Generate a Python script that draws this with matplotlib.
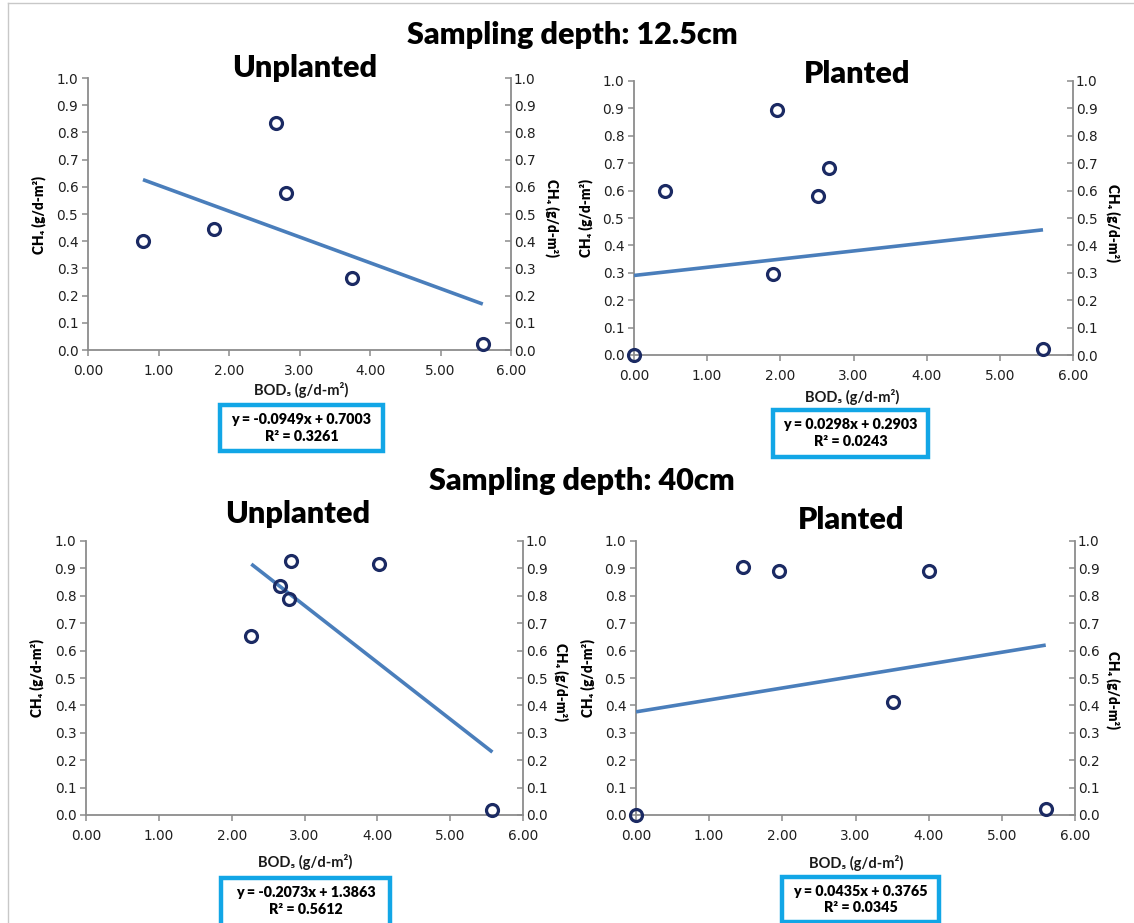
import matplotlib
matplotlib.use("Agg")
import matplotlib.pyplot as plt
import matplotlib.patheffects as pe
from matplotlib.patches import Rectangle
from matplotlib.lines import Line2D

# ---------------- data ----------------
ul125_x = [0.78, 1.79, 2.66, 2.81, 3.75, 5.60]
ul125_y = [0.40, 0.445, 0.834, 0.579, 0.266, 0.022]
ul125_fit = (-0.0949, 0.7003, 0.3261)

pl125_x = [0.00, 0.42, 1.95, 1.90, 2.51, 2.66, 5.59]
pl125_y = [0.00, 0.598, 0.893, 0.296, 0.580, 0.682, 0.022]
pl125_fit = (0.0298, 0.2903, 0.0243)

ul40_x = [2.27, 2.66, 2.81, 2.79, 4.02, 5.58]
ul40_y = [0.654, 0.835, 0.928, 0.790, 0.915, 0.018]
ul40_fit = (-0.2073, 1.3863, 0.5612)

pl40_x = [0.00, 1.46, 1.95, 4.00, 3.51, 5.60]
pl40_y = [0.00, 0.905, 0.892, 0.892, 0.411, 0.021]
pl40_fit = (0.0435, 0.3765, 0.0345)

x_ticks = [0, 1, 2, 3, 4, 5, 6]
y_ticks = [0.0, 0.1, 0.2, 0.3, 0.4, 0.5, 0.6, 0.7, 0.8, 0.9, 1.0]

section_titles = ["Sampling depth: 12.5cm", "Sampling depth: 40cm"]
panel_titles = ["Unplanted", "Planted", "Unplanted", "Planted"]
xlabel = "BOD\u2085 (g/d-m\u00b2)"
ylabel = "CH\u2084 (g/d-m\u00b2)"

# ---------------- style ----------------
W, H = 1134, 923
fig = plt.figure(figsize=(W / 100, H / 100), dpi=100)
fig.patch.set_facecolor("white")

TITLE_FONT = ["Lato", "DejaVu Sans"]
TICK_FONT = ["DejaVu Sans"]
SPINE_C = "#8c8c8c"
MARK_C = "#1b2a63"
LINE_C = "#4a7ebb"
BOX_C = "#12a6e6"
TICK_SIZE = 9.8


def fx(px):
    return px / W


def fy(py):
    return 1 - py / H


def place(l, r, t, b):
    return [fx(l), fy(b), fx(r) - fx(l), fy(t) - fy(b)]


panels = [
    dict(rect=(88, 511, 78, 350), x=ul125_x, y=ul125_y, fit=ul125_fit,
         title=(305, 68), xl=(301, 390), yl=(39, 215), yr=(552, 218),
         box=(220, 383, 405, 451)),
    dict(rect=(634, 1073, 81, 355), x=pl125_x, y=pl125_y, fit=pl125_fit,
         title=(857, 74), xl=(852, 397), yl=(586, 218), yr=(1113, 223),
         box=(773, 928, 410, 457)),
    dict(rect=(86, 523, 541, 815), x=ul40_x, y=ul40_y, fit=ul40_fit,
         title=(298, 514), xl=(305, 862), yl=(37, 678), yr=(561, 682),
         box=(221, 390, 878, 926)),
    dict(rect=(636, 1075, 541, 815), x=pl40_x, y=pl40_y, fit=pl40_fit,
         title=(851, 520), xl=(856, 863), yl=(588, 678), yr=(1113, 690),
         box=(782, 939, 877, 922)),
]

for i, p in enumerate(panels):
    l, r, t, b = p["rect"]
    ax = fig.add_axes(place(l, r, t, b))
    ax.set_facecolor("none")
    ax.set_xlim(0, 6)
    ax.set_ylim(0, 1.0)
    ax.set_xticks(x_ticks)
    ax.set_xticklabels([f"{v:.2f}" for v in x_ticks])
    ax.set_yticks(y_ticks)
    ax.set_yticklabels([f"{v:.1f}" for v in y_ticks])
    for s in ["top", "right"]:
        ax.spines[s].set_visible(False)
    for s in ["left", "bottom"]:
        ax.spines[s].set_color(SPINE_C)
        ax.spines[s].set_linewidth(1.3)
    ax.tick_params(axis="both", direction="out", length=4, width=1.1,
                   color=SPINE_C, labelsize=TICK_SIZE, labelcolor="#1f1f1f", pad=3)
    ax.tick_params(axis="x", pad=6)
    for lab in ax.get_xticklabels() + ax.get_yticklabels():
        lab.set_family(TICK_FONT)

    axr = ax.twinx()
    axr.set_ylim(0, 1.0)
    axr.set_yticks(y_ticks)
    axr.set_yticklabels([f"{v:.1f}" for v in y_ticks])
    for s in ["top", "left", "bottom"]:
        axr.spines[s].set_visible(False)
    axr.spines["right"].set_color(SPINE_C)
    axr.spines["right"].set_linewidth(1.3)
    axr.tick_params(axis="y", direction="in", length=4, width=1.1,
                    color=SPINE_C, labelsize=TICK_SIZE, labelcolor="#1f1f1f", pad=2)
    for lab in axr.get_yticklabels():
        lab.set_family(TICK_FONT)

    # trend line
    m, c, r2 = p["fit"]
    x0, x1 = min(p["x"]), max(p["x"])
    ax.plot([x0, x1], [m * x0 + c, m * x1 + c], color=LINE_C, lw=2.6,
            solid_capstyle="butt", zorder=3,
            path_effects=[pe.SimplePatchShadow(offset=(1, -1.5), shadow_rgbFace="#9a9a9a", alpha=0.35),
                          pe.Normal()])
    # points
    ax.plot(p["x"], p["y"], linestyle="none", marker="o", ms=8.6,
            mfc="none", mec=MARK_C, mew=2.3, zorder=4, clip_on=False)

    # titles and labels
    fig.text(fx(p["title"][0]), fy(p["title"][1]), panel_titles[i],
             ha="center", va="center", fontsize=22, fontweight="heavy",
             family=TITLE_FONT)
    fig.text(fx(p["xl"][0]), fy(p["xl"][1]), xlabel, ha="center", va="center",
             fontsize=10.5, fontweight="bold", family=TITLE_FONT, color="#1a1a1a")
    fig.text(fx(p["yl"][0]), fy(p["yl"][1]), ylabel, ha="center", va="center",
             rotation=90, fontsize=9.8, fontweight="heavy", family=TITLE_FONT)
    fig.text(fx(p["yr"][0]), fy(p["yr"][1]), ylabel, ha="center", va="center",
             rotation=-90, fontsize=9.8, fontweight="heavy", family=TITLE_FONT)

    # equation box
    bl, br, bt, bb = p["box"]
    fig.patches.append(Rectangle((fx(bl), fy(bb)), fx(br) - fx(bl), fy(bt) - fy(bb),
                                 transform=fig.transFigure, facecolor="white",
                                 edgecolor=BOX_C, linewidth=3.2, zorder=5))
    sign = "-" if m < 0 else ""
    eq = f"y = {sign}{abs(m):.4f}x + {c:.4f}\nR\u00b2 = {r2:.4f}"
    fig.text(fx((bl + br) / 2), fy(min(bt + 23, (bt + bb) / 2)), eq, ha="center", va="center",
             fontsize=10.3, fontweight="heavy", family=TITLE_FONT, linespacing=1.3,
             zorder=6)

# section titles
fig.text(fx(572), fy(35), section_titles[0], ha="center", va="center",
         fontsize=22, fontweight="heavy", family=TITLE_FONT)
fig.text(fx(582), fy(481), section_titles[1], ha="center", va="center",
         fontsize=22, fontweight="heavy", family=TITLE_FONT)

# outer frame
fig.lines.append(Line2D([fx(8), fx(8)], [fy(3), 0], transform=fig.transFigure,
                        color="#c8c8c8", lw=1.0))
fig.lines.append(Line2D([fx(8), 1], [fy(3), fy(3)], transform=fig.transFigure,
                        color="#c8c8c8", lw=1.0))

fig.savefig("out.png", dpi=100, facecolor="white")
